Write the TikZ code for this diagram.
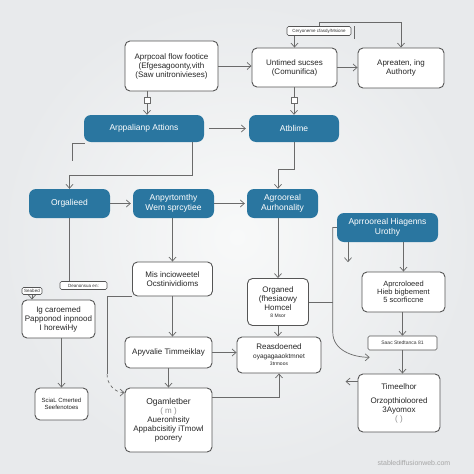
\documentclass[tikz,border=0pt]{standalone}
\usepackage{fontspec}
\setmainfont{Liberation Sans}
\usetikzlibrary{arrows.meta}
\definecolor{bluebox}{HTML}{2A76A0}
\definecolor{edgec}{HTML}{555555}
\definecolor{linec}{HTML}{6A6A6A}
\definecolor{bgin}{RGB}{248,249,249}
\definecolor{bgout}{RGB}{232,234,236}
\tikzset{
  wbox/.style={draw=edgec, line width=0.9pt, fill=white, rounded corners=5pt, align=center,
    font=\fontsize{8}{9}\selectfont, inner sep=1pt, text=black!85},
  bbox/.style={fill=bluebox, draw=none, rounded corners=7pt, align=center, text=white,
    font=\fontsize{8.5}{10}\selectfont, inner sep=1pt},
  tagbox/.style={draw=edgec, line width=0.6pt, fill=white, rounded corners=1.5pt,
    font=\fontsize{4.5}{5}\selectfont, inner sep=1pt, text=black!80},
  conn/.style={draw=linec, line width=0.7pt, -{Straight Barb[length=4pt,width=7pt]}},
  plainline/.style={draw=linec, line width=0.7pt},
}
\begin{document}
\begin{tikzpicture}[x=1pt,y=-1pt]
\useasboundingbox (0,0) rectangle (474,474);
\shade[inner color=bgin, outer color=bgout] (0,0) rectangle (474,474);

% top row
\node[wbox, minimum width=93pt, minimum height=50pt] (b1) at (171.5,66)
  {Aprpcoal flow footice\\(Efgesagoonty,vith\\(Saw unitronivieses)};
\node[wbox, minimum width=85pt, minimum height=39pt] (b2) at (294.5,67.5)
  {Untimed sucses\\(Comunifica)};
\node[wbox, minimum width=86pt, minimum height=40pt] (b3) at (401,68)
  {Apreaten, ing\\Authorty};
\node[tagbox, minimum width=64pt, minimum height=9pt] (lab1) at (319,31)
  {Ceryoneme cfasdy/Msione};

% blue row 1
\node[bbox, minimum width=120pt, minimum height=27pt] (n5) at (144,128.5) {Arppalianp Attions};
\node[bbox, minimum width=90pt, minimum height=27pt] (n6) at (294,128.5) {Atblime};

% blue row 2
\node[bbox, minimum width=81pt, minimum height=29pt] (n7) at (69.5,203.5) {Orgalieed};
\node[bbox, minimum width=81pt, minimum height=29pt] (n8) at (173.5,203.5) {Anpyrtomthy\\Wem sprcytiee};
\node[bbox, minimum width=71pt, minimum height=29pt] (n9) at (282.5,203.5) {Agrooreal\\Aurhonality};
\node[bbox, minimum width=101pt, minimum height=29pt] (n10) at (387.5,227.5) {Aprrooreal Hiagenns\\Urothy};

% middle
\node[wbox, minimum width=80pt, minimum height=34pt] (b14) at (172.5,279)
  {Mis incioweetel\\Ocstinividioms};
\node[wbox, minimum width=61pt, minimum height=47pt] (b15) at (278,302)
  {Organed\\(fhesiaowy\\Homcel\\[-2pt]{\fontsize{5}{6}\selectfont 8 Msor}};
\node[wbox, minimum width=87pt, minimum height=31pt] (b16) at (168.5,352.5)
  {Apyvalie Timmeiklay};
\node[wbox, minimum width=84pt, minimum height=36pt] (b17) at (279,355)
  {Reasdoened\\{\fontsize{6.5}{7}\selectfont oyagagaaoktmnet}\\[-2pt]{\fontsize{5}{6}\selectfont 3trmoos}};
\node[wbox, minimum width=87pt, minimum height=64pt] (b18) at (168.5,420)
  {{\fontsize{8.5}{9}\selectfont Ogamletber}\\{\color{black!45}( m )}\\Aueronhsity\\Appabcisitiy iTmowl\\poorery};

% left
\node[wbox, minimum width=73pt, minimum height=38pt] (b19) at (58.5,319)
  {Ig caroemed\\Papponod inpnood\\I horewiHy};
\node[tagbox, minimum width=20pt, minimum height=7pt] (lab20) at (32,291) {Seabed};
\node[tagbox, minimum width=47pt, minimum height=8pt] (lab21) at (83.5,285.5) {Deanonsua en:};
\node[wbox, minimum width=53pt, minimum height=32pt, font=\fontsize{6}{6.5}\selectfont] (b22) at (61.5,404)
  {SciaL Cmerted\\Seefenotoes};

% right
\node[wbox, minimum width=83pt, minimum height=40pt, font=\fontsize{7.5}{8}\selectfont] (b11) at (403.5,292)
  {Aprcroloeed\\Hieb bigbement\\5 scorficcne};
\node[tagbox, minimum width=69pt, minimum height=14pt, font=\fontsize{5}{6}\selectfont] (lab12) at (402.5,343)
  {Saac Stedtanca 81};
\node[wbox, minimum width=82pt, minimum height=58pt] (b13) at (399,403)
  {Timeelhor\\[5pt]Orzopthioloored\\3Ayomox\\{\color{black!45}( )}};

% connectors
\draw[conn] (b1.east) -- (b1.east -| b2.west);
\draw[conn] (b2.east) -- (b2.east -| b3.west);
\draw[conn] (b2.north |- lab1.south) -- (b2.north);
\draw[conn] (lab1.north) -- ++(0,-4) -| (b3.north);
\draw[plainline] ([xshift=3pt]lab1.north east) -- ++(0,13);
\draw[conn] ([xshift=-24.5pt]b1.south) -- ([xshift=3pt]n5.north);
\draw[conn] (n6.north |- b2.south) -- (n6.north);
\draw[plainline, fill=white] (144,97) rectangle (150,103);
\draw[plainline, fill=white] (291,97) rectangle (297,103);
\draw[conn] ([xshift=5pt]n5.east) -- ([xshift=-3pt]n6.west);
\draw[conn] ([xshift=48pt]n5.south) -- ++(0,33) -| (n7.north);
\draw[plainline] ([xshift=1pt,yshift=-1pt]n5.south west) -- ++(-12,0) -- ++(0,18);
\draw[conn] (n6.south) -- ++(0,27) -| ([xshift=-4.5pt]n9.north);
\draw[conn] (n7.east) -- ([xshift=-2pt]n8.west);
\draw[conn] (n8.east) -- ([xshift=-2pt]n9.west);
\draw[conn] (n8.south -| b14.north) -- (b14.north);
\draw[conn] (b15.north |- n9.south) -- (b15.north);
\draw[plainline] (n7.south) -- (n7.south |- lab21.north);
\draw[plainline] (b14.south west) -- ++(-25,0) -- ++(0,78) coordinate (dk);
\draw[conn, dashed] (dk) to[out=-90,in=180] ([yshift=-5pt]b18.north west);
\draw[conn] (lab20.south) -- (lab20.south |- b19.north);
\draw[conn] (b22.north |- b19.south) -- (b22.north);
\draw[conn] (b14.south) -- (b14.south |- b16.north);
\draw[conn] (b15.south) -- (b15.south |- b17.north);
\draw[plainline] (b15.east) -- ++(24,0);
\draw[conn] (n10.west) -- ++(-4,0) -- ++(0,105) to[out=-90,in=180] ([xshift=2pt,yshift=-7pt]lab12.south west);
\draw[conn] ([xshift=-39.5pt]n10.south) -- ++(0,20);
\draw[conn] (b11.north |- n10.south) -- (b11.north);
\draw[conn] (lab12.north |- b11.south) -- (lab12.north);
\draw[conn] (lab12.south) -- (lab12.south |- b13.north);
\draw[conn] ([yshift=-8pt]b13.north west) -- ++(-12,0);
\draw[conn] (b16.east) -- (b16.east -| b17.west);
\draw[conn] (b16.south) -- (b16.south |- b18.north);
\draw[conn] ([yshift=-10pt]b18.north east) -| (b17.south);

\node[font=\fontsize{7}{8}\selectfont, text=black!35] (wm) at (414,463) {stablediffusionweb.com};
\end{tikzpicture}
\end{document}
